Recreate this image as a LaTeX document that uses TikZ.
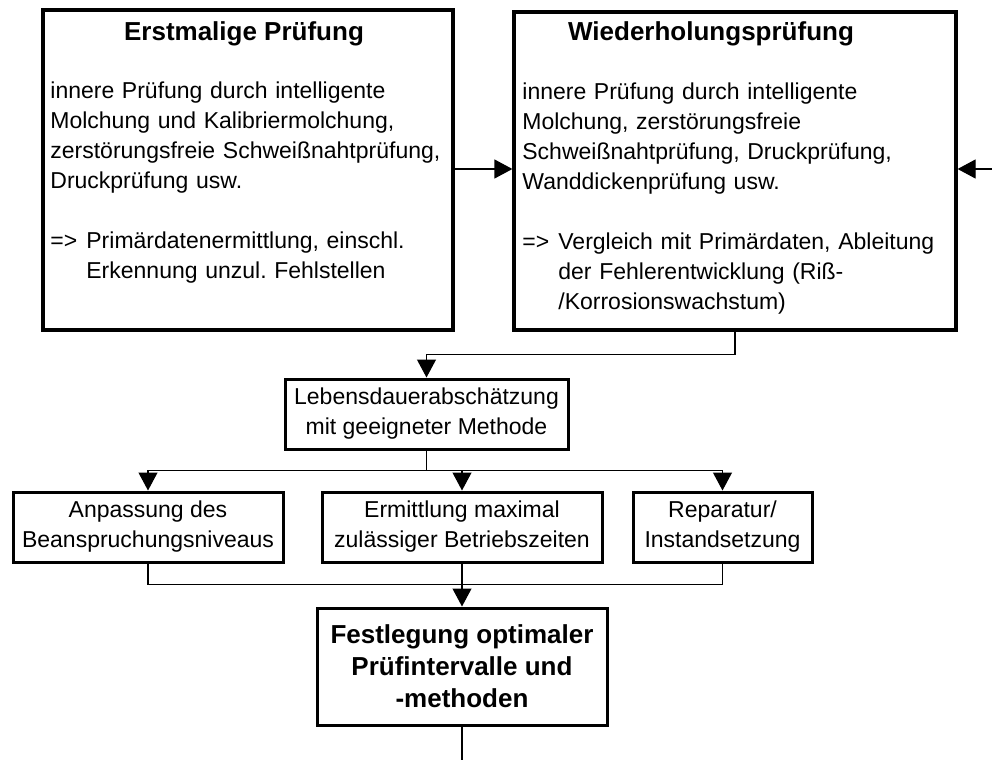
\documentclass[tikz,border=0pt]{standalone}
\usepackage{fontspec}
\setmainfont{Liberation Sans}
\usetikzlibrary{arrows.meta}

\newcommand{\bodyfont}{\fontsize{11.5}{15}\selectfont\frenchspacing}
\newcommand{\headfont}{\fontsize{13}{16}\selectfont\bfseries}

\tikzset{
	bigbox/.style={draw, line width=1.6pt, inner sep=0pt},
	smallbox/.style={draw, line width=1.5pt, inner sep=0pt, align=center,
		minimum height=35pt, font=\bodyfont},
	headtext/.style={inner sep=0pt, font=\headfont},
	bodytext/.style={inner sep=0pt, text width=212pt, font=\bodyfont},
	conn/.style={line width=0.6pt},
	arr/.style={conn, -{Triangle[width=9.5pt,length=9pt]}},
}

\begin{document}
\begin{tikzpicture}[x=0.5pt, y=-0.5pt]
	% -------- Tunables --------
	\def\hang{18pt}      % indent after "=>"
	\def\gap{15pt}       % empty line between paragraphs
	
	\useasboundingbox (0,0) rectangle (992,760);
	
	% -------- Upper boxes --------
	\node[bigbox, minimum width=205pt, minimum height=160pt] (erst) at (248,170) {};
	\node[bigbox, minimum width=221pt, minimum height=159pt] (wied) at (735,171) {};
	
	\node[headtext, anchor=base] (erstT) at (244,40) {Erstmalige Prüfung};
	\node[headtext, anchor=base] (wiedT) at (711,40) {Wiederholungsprüfung};
	
	\node[bodytext, anchor=base west] (erstB) at (50,98) {\raggedright
		innere Prüfung durch intelligente\\
		Molchung und Kalibriermolchung,\\
		zerstörungsfreie Schweißnahtprüfung,\\
		Druckprüfung usw.\\[\gap]
		\makebox[\hang][l]{=>}Primärdatenermittlung, einschl.\\
		\hspace*{\hang}Erkennung unzul. Fehlstellen};
	\node[bodytext, anchor=base west] (wiedB) at (522,99) {\raggedright
		innere Prüfung durch intelligente\\
		Molchung, zerstörungsfreie\\
		Schweißnahtprüfung, Druckprüfung,\\
		Wanddickenprüfung usw.\\[\gap]
		\makebox[\hang][l]{=>}Vergleich mit Primärdaten, Ableitung\\
		\hspace*{\hang}der Fehlerentwicklung (Riß-\\
		\hspace*{\hang}/Korrosionswachstum)};
	
	% -------- Lower boxes --------
	\node[smallbox, minimum width=141.5pt] (leben) at (426.5,414) {Lebensdauerabschätzung\\mit geeigneter Methode};
	\node[smallbox, minimum width=135pt] (anp) at (148,527) {Anpassung des\\Beanspruchungsniveaus};
	\node[smallbox, minimum width=140pt] (ermit) at (462,527) {Ermittlung maximal\\zulässiger Betriebszeiten};
	\node[smallbox, minimum width=89.5pt] (rep) at (722.5,527) {Reparatur/\\Instandsetzung};
	\node[smallbox, font=\headfont, minimum width=145pt, minimum height=58.5pt] (fest) at (462,666.5)
		{Festlegung optimaler\\Prüfintervalle und\\-methoden};
	
	% free ends at the page border
	\coordinate (ret) at (992,169);
	\coordinate (out) at (462,760);
	
	% -------- Connectors --------
	\draw[arr] (erst.east |- 0,169) -- (wied.west |- 0,169);
	\draw[arr] (ret) -- (ret -| wied.east);
	\draw[arr] (wied.south) -- ++(0,23) -| (leben.north);
	\foreach \b in {anp,ermit,rep}{
		\draw[arr] (leben.south) -- ++(0,20) -| (\b.north);
	}
	\draw[conn] (anp.south) -- ++(0,21) -| (rep.south);
	\draw[arr] (ermit.south) -- (fest.north);
	\draw[conn] (fest.south) -- (out);
	
\end{tikzpicture}
\end{document}
